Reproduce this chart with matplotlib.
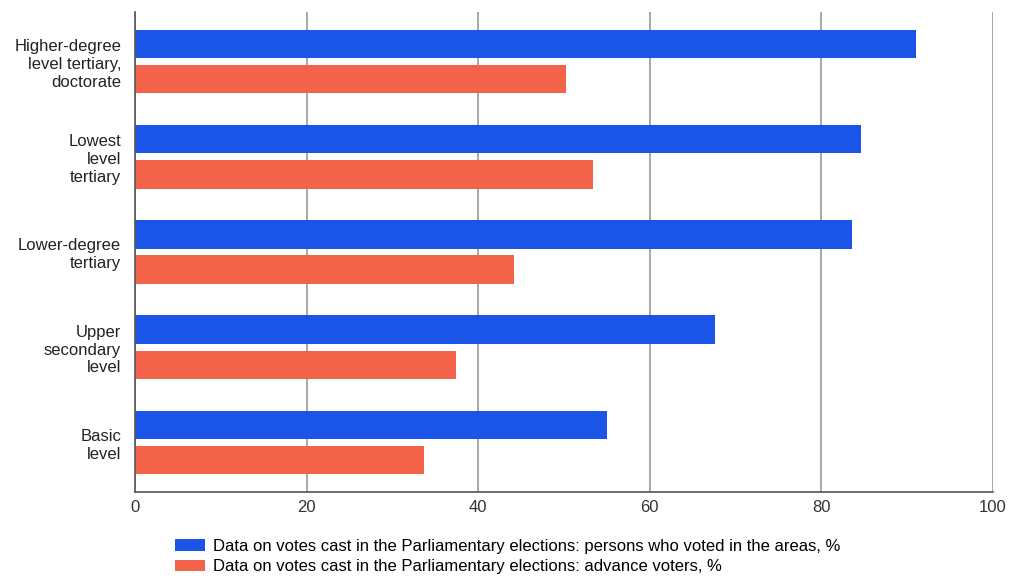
import numpy as np
import matplotlib.pyplot as plt
from matplotlib.patches import Patch

plt.rcParams['font.family'] = ['Liberation Sans', 'DejaVu Sans']

categories = [
    "Higher-degree\nlevel tertiary,\ndoctorate",
    "Lowest\nlevel\ntertiary",
    "Lower-degree\ntertiary",
    "Upper\nsecondary\nlevel",
    "Basic\nlevel",
]
voted_in_areas = [91.0, 84.6, 83.6, 67.6, 55.0]
advance_voters = [50.2, 53.4, 44.2, 37.4, 33.7]
series_names = [
    "Data on votes cast in the Parliamentary elections: persons who voted in the areas, %",
    "Data on votes cast in the Parliamentary elections: advance voters, %",
]
xticks = [0, 20, 40, 60, 80, 100]

BLUE = "#1A55E8"
ORANGE = "#F2634A"

fig = plt.figure(figsize=(10.11, 5.76), dpi=100)
ax = fig.add_axes([0.1335, 0.146, 0.8485, 0.833])

y = np.arange(len(categories))
h = 0.30
ax.barh(y - 0.185, voted_in_areas, height=h, color=BLUE, zorder=3)
ax.barh(y + 0.185, advance_voters, height=h, color=ORANGE, zorder=3)

ax.set_xlim(0, 100)
ax.set_ylim(len(categories) - 0.48, -0.52)
ax.set_xticks(xticks)
ax.set_xticklabels([str(t) for t in xticks], fontsize=12, color="#333333")
ax.set_yticks(y)
ax.set_yticklabels(categories, fontsize=12, color="#222222", linespacing=1.22)
ax.tick_params(axis="both", length=0)
ax.tick_params(axis="x", pad=6)
ax.tick_params(axis="y", pad=10)

ax.grid(axis="x", color="#999999", linewidth=1.2, zorder=0)
for s in ["top", "right"]:
    ax.spines[s].set_visible(False)
for s in ["left", "bottom"]:
    ax.spines[s].set_color("#555555")
    ax.spines[s].set_linewidth(1.2)
    ax.spines[s].set_zorder(4)

handles = [Patch(facecolor=BLUE), Patch(facecolor=ORANGE)]
fig.legend(handles, series_names, loc="upper left", bbox_to_anchor=(0.173, 0.065),
           frameon=False, fontsize=12, handlelength=1.8, handleheight=0.7,
           handletextpad=0.5, labelspacing=0.35, borderpad=0, borderaxespad=0)

fig.savefig("out.png", dpi=100)
